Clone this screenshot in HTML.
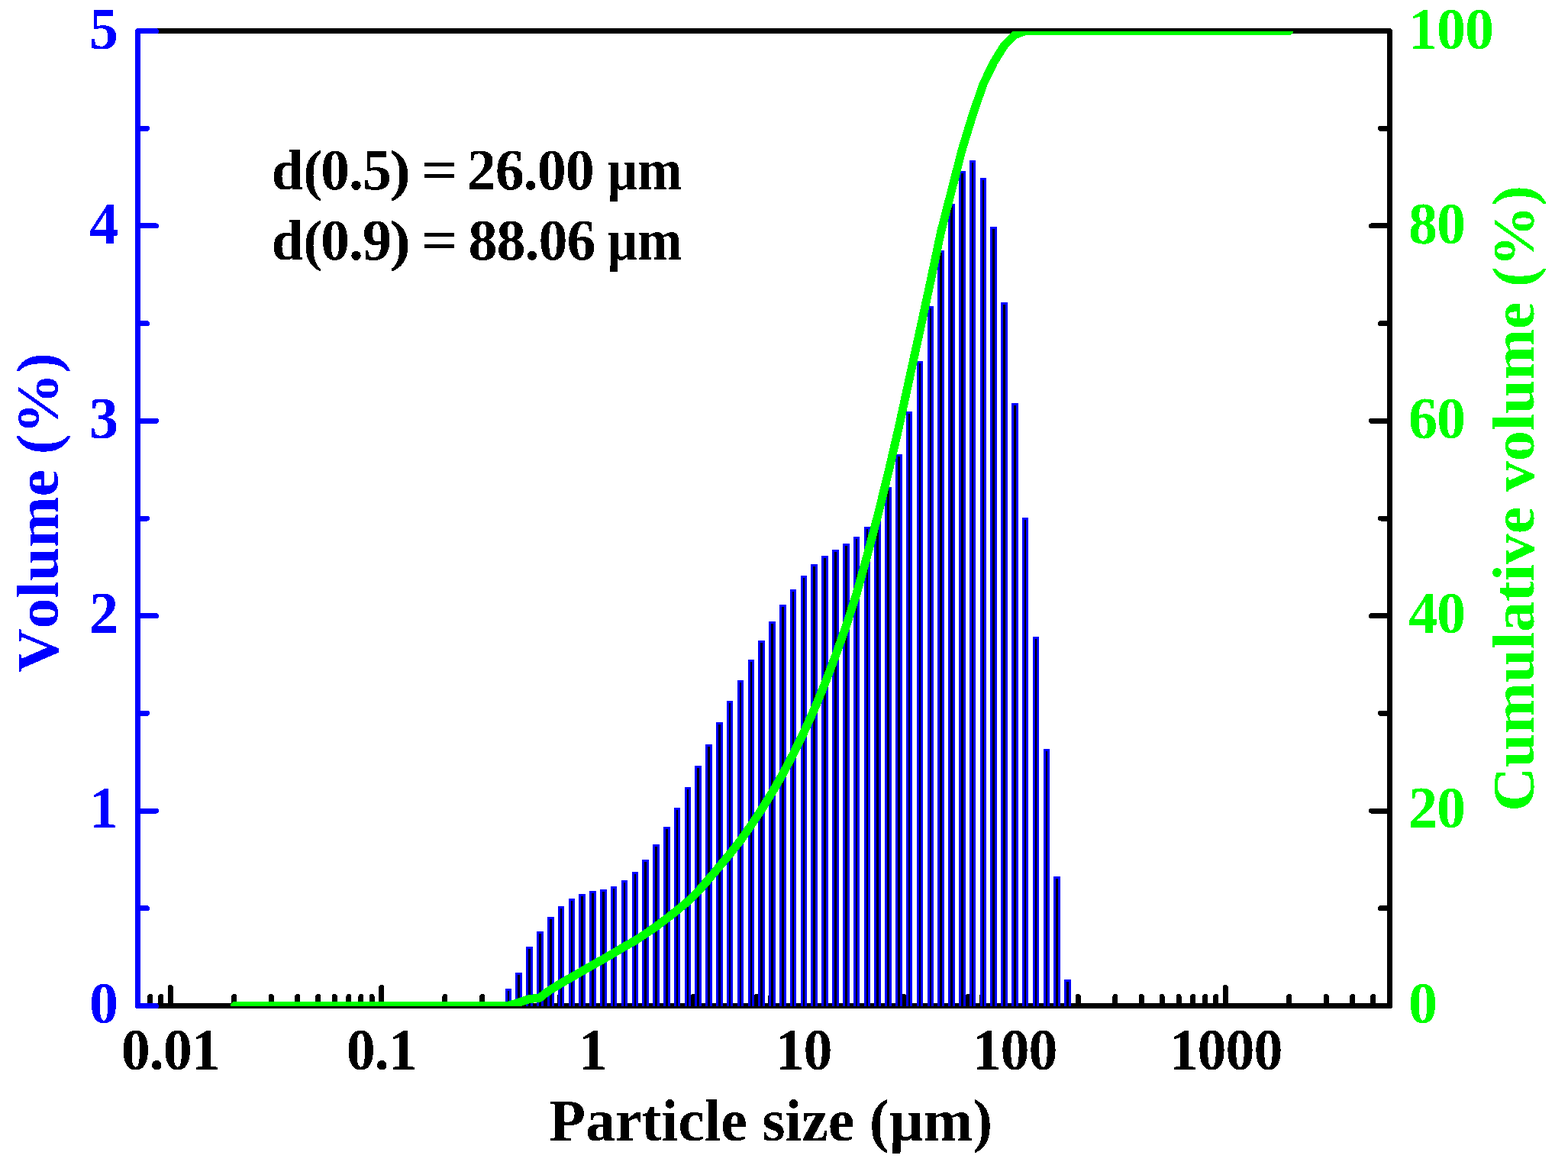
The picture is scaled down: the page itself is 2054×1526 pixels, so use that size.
<!DOCTYPE html>
<html lang="en"><head><meta charset="utf-8"><title>Particle size distribution</title>
<style>html,body{margin:0;padding:0;background:#fff}body{width:2054px;height:1526px;overflow:hidden}text{font-family:'Liberation Serif',serif;font-weight:bold;font-kerning:none;white-space:pre}</style></head>
<body>
<svg width="2054" height="1526" viewBox="0 0 2054 1526" style="display:block">
<rect width="2054" height="1526" fill="#fff"/>
<defs><clipPath id="fr"><rect x="0" y="41" width="2054" height="1277"/></clipPath><filter id="bw" x="0" y="0" width="2054" height="1526" filterUnits="userSpaceOnUse" color-interpolation-filters="sRGB"><feComponentTransfer><feFuncA type="discrete" tableValues="0 1"/></feComponentTransfer></filter></defs>
<g stroke="#000" stroke-width="7" fill="none" stroke-linecap="round" shape-rendering="crispEdges">
<path d="M180.5 40.5H1820.5V1317.5H180.5" stroke-linejoin="round"/>
<path d="M180.50 1317.5v-12M196.53 1317.5v-12M210.67 1317.5v-12M223.32 1317.5v-24M306.53 1317.5v-12M355.20 1317.5v-12M389.74 1317.5v-12M416.53 1317.5v-12M438.41 1317.5v-12M456.92 1317.5v-12M472.95 1317.5v-12M487.09 1317.5v-12M499.74 1317.5v-24M582.95 1317.5v-12M631.62 1317.5v-12M666.16 1317.5v-12M692.94 1317.5v-12M714.83 1317.5v-12M733.34 1317.5v-12M749.37 1317.5v-12M763.50 1317.5v-12M776.15 1317.5v-24M859.36 1317.5v-12M908.04 1317.5v-12M942.57 1317.5v-12M969.36 1317.5v-12M991.25 1317.5v-12M1009.75 1317.5v-12M1025.78 1317.5v-12M1039.92 1317.5v-12M1052.57 1317.5v-24M1135.78 1317.5v-12M1184.45 1317.5v-12M1218.99 1317.5v-12M1245.78 1317.5v-12M1267.66 1317.5v-12M1286.17 1317.5v-12M1302.20 1317.5v-12M1316.34 1317.5v-12M1328.99 1317.5v-24M1412.20 1317.5v-12M1460.87 1317.5v-12M1495.41 1317.5v-12M1522.20 1317.5v-12M1544.08 1317.5v-12M1562.59 1317.5v-12M1578.62 1317.5v-12M1592.76 1317.5v-12M1605.41 1317.5v-24M1688.62 1317.5v-12M1737.29 1317.5v-12M1771.83 1317.5v-12M1798.61 1317.5v-12M1820.50 1317.5v-12M1820.5 1317.50h-24M1820.5 1189.80h-12M1820.5 1062.10h-24M1820.5 934.40h-12M1820.5 806.70h-24M1820.5 679.00h-12M1820.5 551.30h-24M1820.5 423.60h-12M1820.5 295.90h-24M1820.5 168.20h-12M1820.5 40.50h-24"/>
</g>
<g stroke="#0000ff" stroke-width="7" fill="none" stroke-linecap="round" shape-rendering="crispEdges">
<path d="M180.5 40.5V1317.5M180.5 1317.50h24M180.5 1189.80h12M180.5 1062.10h24M180.5 934.40h12M180.5 806.70h24M180.5 679.00h12M180.5 551.30h24M180.5 423.60h12M180.5 295.90h24M180.5 168.20h12M180.5 40.50h24"/>
</g>
<g clip-path="url(#fr)">
<path fill="#0000ff" d="M662 1295H670V1330H662ZM675 1274H684V1330H675ZM689 1240H698V1330H689ZM703 1220H712V1330H703ZM717 1201H726V1330H717ZM731 1187H739V1330H731ZM745 1177H753V1330H745ZM758 1171H767V1330H758ZM772 1167H781V1330H772ZM786 1165H795V1330H786ZM800 1161H808V1330H800ZM814 1153H822V1330H814ZM828 1142H836V1330H828ZM841 1126H850V1330H841ZM855 1106H864V1330H855ZM869 1083H878V1330H869ZM883 1058H891V1330H883ZM897 1031H905V1330H897ZM910 1003H919V1330H910ZM924 975H933V1330H924ZM938 946H947V1330H938ZM952 918H960V1330H952ZM966 891H974V1330H966ZM980 864H988V1330H980ZM993 839H1002V1330H993ZM1007 814H1016V1330H1007ZM1021 792H1030V1330H1021ZM1035 772H1043V1330H1035ZM1049 754H1057V1330H1049ZM1062 739H1071V1330H1062ZM1076 728H1085V1330H1076ZM1090 720H1099V1330H1090ZM1104 712H1113V1330H1104ZM1118 703H1126V1330H1118ZM1132 690H1140V1330H1132ZM1145 670H1154V1330H1145ZM1159 638H1168V1330H1159ZM1173 595H1182V1330H1173ZM1187 539H1195V1330H1187ZM1201 473H1209V1330H1201ZM1215 401H1223V1330H1215ZM1228 328H1237V1330H1228ZM1242 267H1251V1330H1242ZM1256 224H1265V1330H1256ZM1270 210H1278V1330H1270ZM1284 233H1292V1330H1284ZM1297 297H1306V1330H1297ZM1311 396H1320V1330H1311ZM1325 528H1334V1330H1325ZM1339 678H1347V1330H1339ZM1353 834H1361V1330H1353ZM1367 981H1375V1330H1367ZM1380 1148H1389V1330H1380ZM1394 1283H1403V1330H1394Z" shape-rendering="crispEdges"/>
<path fill="#000" d="M665 1298H667V1330H665ZM678 1277H681V1330H678ZM692 1243H695V1330H692ZM706 1223H709V1330H706ZM720 1204H723V1330H720ZM734 1190H736V1330H734ZM748 1180H750V1330H748ZM761 1174H764V1330H761ZM775 1170H778V1330H775ZM789 1168H792V1330H789ZM803 1164H805V1330H803ZM817 1156H819V1330H817ZM831 1145H833V1330H831ZM844 1129H847V1330H844ZM858 1109H861V1330H858ZM872 1086H875V1330H872ZM886 1061H888V1330H886ZM900 1034H902V1330H900ZM913 1006H916V1330H913ZM927 978H930V1330H927ZM941 949H944V1330H941ZM955 921H957V1330H955ZM969 894H971V1330H969ZM983 867H985V1330H983ZM996 842H999V1330H996ZM1010 817H1013V1330H1010ZM1024 795H1027V1330H1024ZM1038 775H1040V1330H1038ZM1052 757H1054V1330H1052ZM1065 742H1068V1330H1065ZM1079 731H1082V1330H1079ZM1093 723H1096V1330H1093ZM1107 715H1110V1330H1107ZM1121 706H1123V1330H1121ZM1135 693H1137V1330H1135ZM1148 673H1151V1330H1148ZM1162 641H1165V1330H1162ZM1176 598H1179V1330H1176ZM1190 542H1192V1330H1190ZM1204 476H1206V1330H1204ZM1218 404H1220V1330H1218ZM1231 331H1234V1330H1231ZM1245 270H1248V1330H1245ZM1259 227H1262V1330H1259ZM1273 213H1275V1330H1273ZM1287 236H1289V1330H1287ZM1300 300H1303V1330H1300ZM1314 399H1317V1330H1314ZM1328 531H1331V1330H1328ZM1342 681H1344V1330H1342ZM1356 837H1358V1330H1356ZM1370 984H1372V1330H1370ZM1383 1151H1386V1330H1383ZM1397 1286H1400V1330H1397Z" shape-rendering="crispEdges"/>
</g>
<g clip-path="url(#fr)"><path d="M307.40 1317.50L655.00 1317.50L665.85 1317.20L679.67 1313.20L693.49 1308.60L707.31 1307.00L713.40 1301.90L721.13 1296.43L734.95 1288.01L748.77 1280.09L762.59 1272.05L776.41 1264.13L790.23 1256.35L804.05 1248.28L817.87 1240.02L831.69 1232.30L845.51 1223.19L859.34 1213.77L873.16 1203.33L886.98 1192.42L900.80 1181.00L914.62 1167.48L928.44 1151.55L942.26 1135.13L956.08 1118.52L969.90 1101.06L983.72 1081.26L997.54 1060.39L1011.36 1038.16L1025.19 1014.08L1039.01 987.93L1052.83 959.66L1066.65 929.23L1080.47 895.77L1094.29 859.49L1108.11 820.71L1121.93 778.08L1135.75 728.55L1149.57 676.25L1163.39 620.21L1177.22 560.36L1191.04 496.88L1204.86 433.72L1218.68 369.79L1232.50 304.04L1246.32 250.35L1260.14 196.37L1273.96 151.10L1287.78 110.66L1301.60 81.99L1315.40 59.70L1329.30 45.60L1343.10 40.50L1688.60 40.50" fill="none" stroke="#00ff00" stroke-width="11" stroke-linejoin="round" stroke-linecap="round" shape-rendering="crispEdges"/></g>
<g filter="url(#bw)">
<text transform="translate(116.9 63.6) scale(1 1.0175)" font-size="76" fill="#0000ff" letter-spacing="-1">5</text>
<text transform="translate(116.9 318.82) scale(1 1.0175)" font-size="76" fill="#0000ff" letter-spacing="-1">4</text>
<text transform="translate(116.9 574.04) scale(1 1.0175)" font-size="76" fill="#0000ff" letter-spacing="-1">3</text>
<text transform="translate(116.9 829.26) scale(1 1.0175)" font-size="76" fill="#0000ff" letter-spacing="-1">2</text>
<text transform="translate(116.9 1084.48) scale(1 1.0175)" font-size="76" fill="#0000ff" letter-spacing="-1">1</text>
<text transform="translate(116.9 1339.7) scale(1 1.0175)" font-size="76" fill="#0000ff" letter-spacing="-1">0</text>
<text transform="translate(1845.1 63.6) scale(1 1.0175)" font-size="76" fill="#00ff00" letter-spacing="-1">100</text>
<text transform="translate(1845.1 318.82) scale(1 1.0175)" font-size="76" fill="#00ff00" letter-spacing="-1">80</text>
<text transform="translate(1845.1 574.04) scale(1 1.0175)" font-size="76" fill="#00ff00" letter-spacing="-1">60</text>
<text transform="translate(1845.1 829.26) scale(1 1.0175)" font-size="76" fill="#00ff00" letter-spacing="-1">40</text>
<text transform="translate(1845.1 1084.48) scale(1 1.0175)" font-size="76" fill="#00ff00" letter-spacing="-1">20</text>
<text transform="translate(1845.1 1339.7) scale(1 1.0175)" font-size="76" fill="#00ff00" letter-spacing="-1">0</text>
<text transform="translate(158.82 1400.7) scale(1 1.0175)" font-size="76" fill="#000" letter-spacing="-1">0.01</text>
<text transform="translate(453.74 1400.7) scale(1 1.0175)" font-size="76" fill="#000" letter-spacing="-1">0.1</text>
<text transform="translate(757.65 1400.7) scale(1 1.0175)" font-size="76" fill="#000" letter-spacing="-1">1</text>
<text transform="translate(1015.57 1400.7) scale(1 1.0175)" font-size="76" fill="#000" letter-spacing="-1">10</text>
<text transform="translate(1273.49 1400.7) scale(1 1.0175)" font-size="76" fill="#000" letter-spacing="-1">100</text>
<text transform="translate(1531.41 1400.7) scale(1 1.0175)" font-size="76" fill="#000" letter-spacing="-1">1000</text>
<text transform="translate(719.6 1493.6) scale(0.973 0.98)" font-size="80" fill="#000">Particle size (µm)</text>
<text transform="translate(75.8 880.9) rotate(-90) scale(0.9975 0.975)" font-size="80" fill="#0000ff">Volume (%)</text>
<text transform="translate(2009.3 1062.7) rotate(-90) scale(0.9975 0.975)" font-size="80" fill="#00ff00">Cumulative volume (%)</text>
<text transform="translate(0 248.2) scale(1 1.0138)" font-size="76" fill="#000"><tspan x="355.67" font-size="71.97" textLength="66.54" lengthAdjust="spacingAndGlyphs">d(</tspan><tspan x="419.99" font-size="76" letter-spacing="-1">0.5</tspan><tspan x="510.44" font-size="71.97" textLength="27.49" lengthAdjust="spacingAndGlyphs">)</tspan> <tspan x="551.79" font-size="74.97" textLength="48.18" lengthAdjust="spacingAndGlyphs">=</tspan> <tspan x="611.79" font-size="76" letter-spacing="-1">26.00</tspan> <tspan x="795.61" font-size="74.97" textLength="97.67" lengthAdjust="spacingAndGlyphs">µm</tspan></text>
<text transform="translate(0 340.1) scale(1 1.0138)" font-size="76" fill="#000"><tspan x="355.67" font-size="71.97" textLength="66.54" lengthAdjust="spacingAndGlyphs">d(</tspan><tspan x="419.99" font-size="76" letter-spacing="-1">0.9</tspan><tspan x="510.44" font-size="71.97" textLength="27.49" lengthAdjust="spacingAndGlyphs">)</tspan> <tspan x="551.79" font-size="74.97" textLength="48.18" lengthAdjust="spacingAndGlyphs">=</tspan> <tspan x="613.41" font-size="76" letter-spacing="-1">88.06</tspan> <tspan x="795.61" font-size="74.97" textLength="97.67" lengthAdjust="spacingAndGlyphs">µm</tspan></text>
</g>
</svg>
</body></html>
